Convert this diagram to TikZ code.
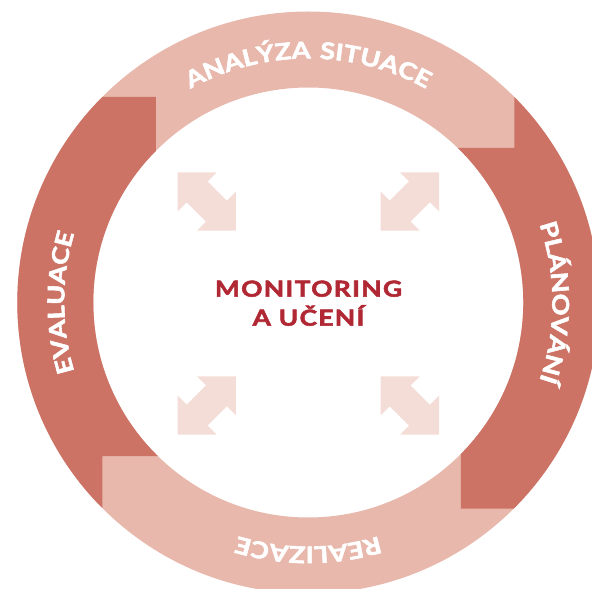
\documentclass[tikz,border=0pt]{standalone}
\usepackage{fontspec}
\setmainfont{Lato}[BoldFeatures={FakeBold=2.5}]
\usetikzlibrary{decorations.text}
\definecolor{ringdark}{RGB}{204,115,102}
\definecolor{ringlight}{RGB}{232,184,172}
\definecolor{arrowpink}{RGB}{244,221,215}
\definecolor{montext}{RGB}{176,40,52}
\newcommand{\ringfont}{\fontsize{23}{23}\selectfont\bfseries\addfontfeature{FakeStretch=1.18,LetterSpace=10}}
\newcommand{\monfont}{\fontsize{22}{29}\selectfont\bfseries\addfontfeature{FakeStretch=1.2,LetterSpace=6}}
\tikzset{
	ring/.style={even odd rule},
	dblarrow/.pic={\fill[arrowpink] (-29.2,29.2) -- (9.9,29.2) -- (0.8,20) -- (20,0.8) -- (29.2,9.9) -- (29.2,-29.2) -- (-9.9,-29.2) -- (-0.8,-20) -- (-20,-0.8) -- (-29.2,-9.9) -- cycle;},
	ringlabel/.style={decorate, decoration={text along path, text={|\ringfont|#1}, text align=center, text color=white}}
}
\begin{document}
\begin{tikzpicture}[x=1pt,y=1pt]
		\useasboundingbox (-308.3,-286.5) rectangle (283.7,302.5);
		\coordinate (O) at (0,0);
		
		\fill[ringlight, ring] (O) circle (291) (O) circle (215);
		\begin{scope}
			\clip (-300,205.5) -- (-152.5,205.5) -- (-152.5,-100) -- (-100,-100) -- (-100,-153.5) -- (-206,-153.5) -- (-206,-300) -- (-300,-300) -- cycle;
			\fill[ringdark, ring] (O) circle (291) (O) circle (215);
		\end{scope}
		\begin{scope}
			\clip (300,-206) -- (152.5,-206) -- (152.5,100) -- (100,100) -- (100,154.5) -- (206,154.5) -- (206,300) -- (300,300) -- cycle;
			\fill[ringdark, ring] (O) circle (291) (O) circle (215);
		\end{scope}
		
		\path[ringlabel={ANALÝZA SITUACE}] (160:244) arc[start angle=160, end angle=20, radius=244];
		\path[ringlabel={PLÁNOVÁNÍ}] (70:244) arc[start angle=70, end angle=-70, radius=244];
		\path[ringlabel={REALIZACE}] (-20:244) arc[start angle=-20, end angle=-160, radius=244];
		\path[ringlabel={EVALUACE}] (250:244) arc[start angle=250, end angle=110, radius=244];
		
		\pic (aTL) at (-101.5,101) {dblarrow};
		\pic[xscale=-1] (aTR) at (101.5,101) {dblarrow};
		\pic[xscale=-1] (aBL) at (-101.5,-103) {dblarrow};
		\pic (aBR) at (101.5,-103) {dblarrow};
		
		\node[font=\monfont, text=montext, align=center] (mon) at (0.2,-0.7) {MONITORING\\A UČENÍ};
	\end{tikzpicture}
\end{document}
